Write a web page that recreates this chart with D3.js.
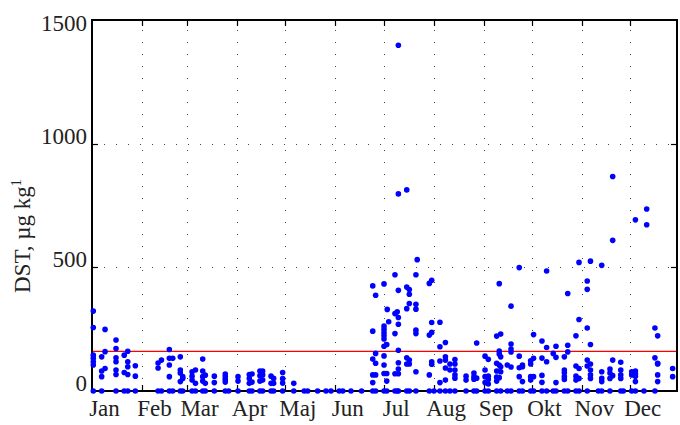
<!DOCTYPE html>
<html>
<head>
<meta charset="utf-8">
<script src="https://cdn.jsdelivr.net/npm/d3@7"></script>
<style>
body { margin: 0; background: #fff; }
text { font-family: 'Liberation Serif', 'Times New Roman', serif; fill: #222; }
</style>
</head>
<body>
<script>
// months, first day of each month (day of year, 0 = 1 Jan)
var monthNames = ['Jan', 'Feb', 'Mar', 'Apr', 'Maj', 'Jun', 'Jul', 'Aug', 'Sep', 'Okt', 'Nov', 'Dec'];
var monthStarts = [0, 31, 59, 90, 120, 151, 181, 212, 243, 273, 304, 334];
var yTicks = [0, 500, 1000, 1500];
var threshold = 160;

// sampling days and the DST values measured on each of them
var sampleDays = [
    0.8, 6.0, 8.1, 14.9, 20.0, 22.2, 26.9,
    41.0, 43.1, 48.0, 50.1, 54.8, 56.3,
    62.1, 64.2, 68.7, 70.3, 75.9, 82.7, 84.8,
    90.6, 97.6, 99.3, 104.2, 105.9, 111.1, 112.7, 118.3,
    125.2, 131.7, 133.8, 140.0, 145.2, 148.3,
    153.4, 155.6, 160.7, 167.3, 174.2, 176.0,
    181.2, 182.9, 183.2, 184.1, 188.0, 189.4, 190.1, 195.3, 196.9, 201.0, 201.8, 209.3, 210.8,
    212.2, 215.9, 219.3, 222.1, 225.2, 232.1, 237.0, 238.7,
    243.9, 245.9, 251.1, 252.7, 253.6, 257.7, 260.0, 265.1, 267.1,
    272.2, 274.0, 279.2, 282.1, 286.2, 287.9, 293.1, 295.2, 300.3, 302.2,
    307.3, 309.3, 314.2, 316.3, 321.4, 323.1, 328.1, 329.7,
    334.9, 337.2, 342.5, 344.2, 349.3, 351.0, 360.3
];
var dstValues = [
    [323, 257, 145, 132, 118, 105, 0], [138, 81, 58, 0], [249, 159, 91], [206, 172, 134, 118, 85, 67, 0],
    [145, 75, 0], [161, 118, 98, 67, 0], [102, 60, 0],
    [113, 93, 0], [125, 0], [168, 132, 105, 58, 0], [132, 0], [138, 85, 73, 38, 0], [58, 51, 0],
    [78, 60, 44, 0], [85, 31, 0], [129, 81, 58, 40, 0], [64, 31, 0], [60, 34, 0], [69, 58, 47, 36, 0], [0],
    [58, 40, 0], [67, 51, 31, 0], [69, 36, 0], [81, 62, 40, 0], [81, 65, 44, 0], [60, 31, 0], [51, 31, 0], [75, 50, 32, 0],
    [31, 0], [0], [0], [0], [0], [0],
    [0], [0], [0], [0], [425, 242, 129, 65, 34, 0], [387, 152, 112, 65, 0],
    [433, 263, 250, 236, 223, 210, 181, 142, 105, 71, 0], [188, 71, 40, 0], [330], [280],
    [470, 313, 232, 70, 0], [320, 0], [1398, 797, 407, 297, 270, 165, 114, 89, 70, 0],
    [813, 420, 333, 134, 109, 0], [410, 391, 354, 125, 109, 0], [470, 351, 331, 246, 232, 78, 0], [531],
    [435, 226, 65, 0], [448, 277, 237, 118, 108],
    [0], [278, 179, 121, 34, 0], [196, 138, 125, 93, 44, 0], [109, 85, 0], [127, 109, 85, 65, 52, 0],
    [60, 44, 0], [73, 58, 48, 0], [194, 52, 0],
    [141, 85, 58, 34, 0], [128, 60, 47, 28, 0], [222, 112, 81, 56, 40, 0], [434, 162, 150, 105, 54],
    [230, 138, 98, 78, 0], [105, 0], [343, 190, 170, 158, 97, 0], [499, 141, 94, 58, 0], [105, 98, 38, 0],
    [122, 109, 58, 44, 0], [228, 132, 58, 0], [202, 133, 63, 35, 0], [485, 176, 118, 0], [152, 0],
    [181, 136, 34, 0], [138, 85, 74, 58, 47, 0], [394, 185, 158, 0], [223, 101, 60, 44, 0], [520, 289, 91, 51, 0],
    [445, 411, 255, 125, 101, 0], [525, 188, 109, 85, 65, 51], [0], [508, 78, 51, 38, 0],
    [89, 73, 51, 0], [867, 609, 125, 62], [116, 85, 65, 51, 0], [0],
    [78, 65, 0], [692, 81, 70, 60, 38, 0], [0], [736, 672], [255, 134, 0], [223, 112, 109, 65, 38], [91, 58]
];

var w = 680;
var h = 425;
var pLeft = 92, pRight = 677, pTop = 20, pBottom = 391;
var tickLen = 6;

var svg = d3.select('body')
    .append('svg')
    .attr('width', w)
    .attr('height', h);

var x = d3.scaleLinear()
    .domain([0, 363])
    .range([pLeft, pRight]);

var y = d3.scaleLinear()
    .domain([0, 1500])
    .range([pBottom, pTop]);

// dotted grid
svg.selectAll('line.vgrid')
    .data(monthStarts.slice(1))
    .enter()
    .append('line')
    .attr('class', 'vgrid')
    .attr('x1', d => Math.round(x(d)) + 0.5)
    .attr('x2', d => Math.round(x(d)) + 0.5)
    .attr('y1', pBottom)
    .attr('y2', pTop)
    .attr('stroke', '#444')
    .attr('stroke-dasharray', '1,11');

svg.selectAll('line.hgrid')
    .data(yTicks.slice(1, -1))
    .enter()
    .append('line')
    .attr('class', 'hgrid')
    .attr('x1', pLeft)
    .attr('x2', pRight)
    .attr('y1', d => Math.round(y(d)) + 0.5)
    .attr('y2', d => Math.round(y(d)) + 0.5)
    .attr('stroke', '#444')
    .attr('stroke-dasharray', '1,11');

// ticks on all four sides, pointing inward
var xt = monthStarts.slice(1);
[[pBottom, -tickLen], [pTop, tickLen]].forEach(function (s) {
    svg.selectAll(null)
        .data(xt)
        .enter()
        .append('line')
        .attr('x1', d => Math.round(x(d)) + 0.5)
        .attr('x2', d => Math.round(x(d)) + 0.5)
        .attr('y1', s[0])
        .attr('y2', s[0] + s[1])
        .attr('stroke', '#000')
        .attr('stroke-width', 1.2);
});
[[pLeft, tickLen], [pRight, -tickLen]].forEach(function (s) {
    svg.selectAll(null)
        .data(yTicks.slice(1, -1))
        .enter()
        .append('line')
        .attr('x1', s[0])
        .attr('x2', s[0] + s[1])
        .attr('y1', d => Math.round(y(d)) + 0.5)
        .attr('y2', d => Math.round(y(d)) + 0.5)
        .attr('stroke', '#000')
        .attr('stroke-width', 1.2);
});

// threshold line
svg.append('line')
    .attr('x1', pLeft)
    .attr('x2', pRight)
    .attr('y1', y(threshold))
    .attr('y2', y(threshold))
    .attr('stroke', '#ff0000')
    .attr('stroke-width', 1.2);

// frame
svg.append('rect')
    .attr('x', pLeft)
    .attr('y', pTop)
    .attr('width', pRight - pLeft)
    .attr('height', pBottom - pTop)
    .attr('fill', 'none')
    .attr('stroke', '#000')
    .attr('stroke-width', 2);

// points
var points = [];
sampleDays.forEach(function (d, i) {
    dstValues[i].forEach(function (v) {
        points.push({day: d, dst: v});
    });
});

svg.selectAll('circle')
    .data(points)
    .enter()
    .append('circle')
    .attr('cx', d => x(d.day))
    .attr('cy', d => y(d.dst))
    .attr('r', 2.8)
    .attr('fill', '#0000ff');

// tick labels
svg.selectAll('text.ylab')
    .data(yTicks)
    .enter()
    .append('text')
    .attr('class', 'ylab')
    .text(d => d)
    .attr('x', 87)
    .attr('y', d => Math.max(y(d), 31))
    .attr('font-size', '23px')
    .attr('text-anchor', 'end');

svg.selectAll('text.xlab')
    .data(monthNames)
    .enter()
    .append('text')
    .attr('class', 'xlab')
    .text(d => d)
    .attr('x', (d, i) => x(monthStarts[i]) + 12.5)
    .attr('y', 416)
    .attr('font-size', '23px')
    .attr('text-anchor', 'middle');

// axis title
var title = svg.append('text')
    .attr('transform', 'translate(30,236) rotate(-90)')
    .attr('font-size', '23px')
    .attr('text-anchor', 'middle');
title.append('tspan').text('DST, \u00b5g kg');
title.append('tspan')
    .attr('font-size', '14px')
    .attr('dy', -9)
    .text('1');
</script>
</body>
</html>
